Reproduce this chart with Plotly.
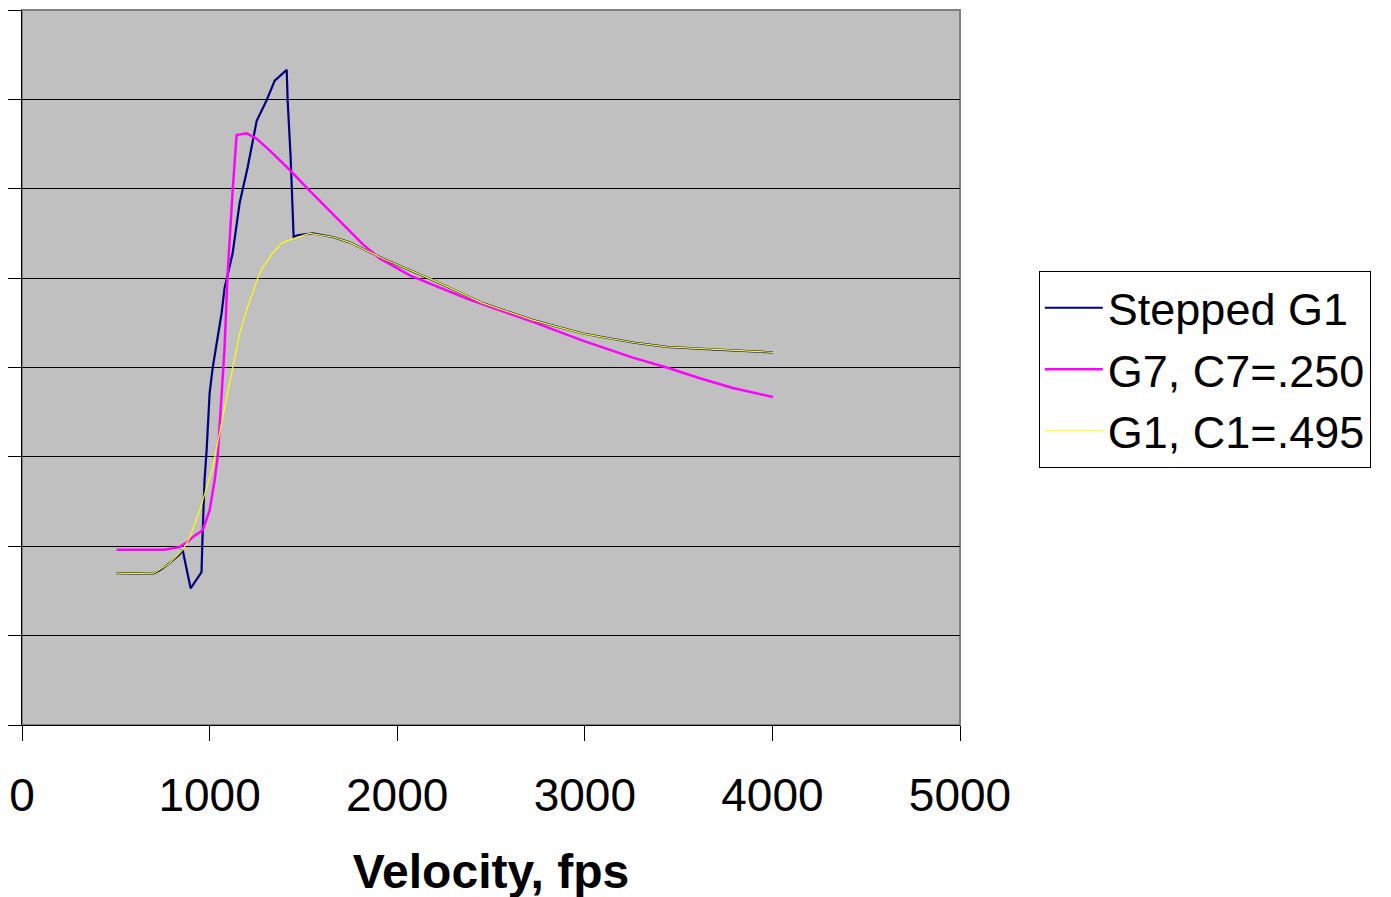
import plotly.graph_objects as go

# Stepped G1
stepped_v = [504, 696, 733, 787, 840, 856, 899, 957, 963, 973, 984, 1000, 1016, 1037, 1064, 1080,
             1123, 1160, 1203, 1251, 1304, 1347, 1411, 1416, 1432, 1448, 1469, 1549, 1656, 1747,
             1923, 2189, 2456, 2723, 2989, 3256, 3437, 3704, 4003]
stepped_c = [0.170, 0.169, 0.173, 0.181, 0.191, 0.196, 0.153, 0.171, 0.215, 0.274, 0.307, 0.371,
             0.399, 0.427, 0.461, 0.489, 0.528, 0.584, 0.624, 0.676, 0.699, 0.721, 0.733, 0.699,
             0.635, 0.546, 0.548, 0.550, 0.546, 0.540, 0.522, 0.498, 0.472, 0.453, 0.438, 0.428,
             0.423, 0.420, 0.417]

# G7, C7=.250
g7_v = [504, 760, 840, 883, 909, 963, 1000, 1027, 1043, 1064, 1080, 1091, 1096, 1123, 1144,
        1197, 1251, 1320, 1427, 1533, 1640, 1731, 1816, 1907, 2067, 2371, 2723, 2989,
        3256, 3437, 3613, 3789, 4003]
g7_c = [0.196, 0.196, 0.199, 0.205, 0.210, 0.218, 0.240, 0.274, 0.300, 0.367, 0.423, 0.479, 0.505,
        0.598, 0.660, 0.662, 0.656, 0.643, 0.621, 0.598, 0.575, 0.556, 0.538, 0.522, 0.503,
        0.477, 0.451, 0.430, 0.411, 0.400, 0.388, 0.377, 0.367]

# G1, C1=.495
g1_v = [504, 696, 787, 856, 893, 947, 1016, 1064, 1107, 1133, 1160, 1197, 1251, 1283, 1336, 1389,
        1443, 1533, 1656, 1747, 1923, 2189, 2456, 2723, 2989, 3256, 3437, 3704, 4003]
g1_c = [0.170, 0.169, 0.181, 0.196, 0.209, 0.240, 0.288, 0.338, 0.382, 0.408, 0.438, 0.464, 0.497,
        0.512, 0.528, 0.540, 0.544, 0.550, 0.546, 0.540, 0.522, 0.498, 0.472, 0.453, 0.438, 0.428,
        0.423, 0.420, 0.417]

x_ticks = [0, 1000, 2000, 3000, 4000, 5000]

fig = go.Figure()
fig.add_trace(go.Scatter(x=stepped_v, y=stepped_c, mode="lines", name="Stepped G1",
                         line=dict(color="#000080", width=2.2)))
fig.add_trace(go.Scatter(x=g7_v, y=g7_c, mode="lines", name="G7, C7=.250",
                         line=dict(color="#ff00ff", width=2.5)))
fig.add_trace(go.Scatter(x=g1_v, y=g1_c, mode="lines", name="G1, C1=.495",
                         line=dict(color="#ffff00", width=1.2)))

font_family = "Liberation Sans, Arial, sans-serif"

fig.update_layout(
    width=1391, height=897,
    margin=dict(l=14, r=439, t=2, b=180, autoexpand=False),
    paper_bgcolor="white",
    plot_bgcolor="#c0c0c0",
    font=dict(family=font_family, color="black", size=45),
    showlegend=True,
    legend=dict(
        x=1.084, y=0.635, xanchor="left", yanchor="top",
        bgcolor="white", bordercolor="black", borderwidth=1,
        font=dict(size=45, family=font_family),
        tracegroupgap=0, itemwidth=58,
    ),
    xaxis=dict(
        range=[0, 5000], tickvals=x_ticks, ticktext=[str(t) for t in x_ticks],
        showgrid=False, zeroline=False, automargin=False,
        showline=True, linecolor="black", linewidth=1,
        ticks="outside", ticklen=15, tickcolor="black", tickwidth=1,
        ticklabelstandoff=15,
        tickfont=dict(size=46, family=font_family),
        title=dict(text="<b>Velocity, fps</b>", font=dict(size=48, family=font_family), standoff=34),
    ),
    yaxis=dict(
        range=[0, 0.8], dtick=0.1, tick0=0, automargin=False,
        showticklabels=False, showgrid=True, gridcolor="black", gridwidth=1,
        zeroline=False,
        showline=True, linecolor="black", linewidth=1,
        ticks="outside", ticklen=14, tickcolor="black", tickwidth=1,
    ),
)

fig.add_shape(type="rect", xref="x domain", yref="y domain", x0=0, x1=1, y0=0, y1=1,
              line=dict(color="#808080", width=2), layer="below")

fig.write_html("out.html")
